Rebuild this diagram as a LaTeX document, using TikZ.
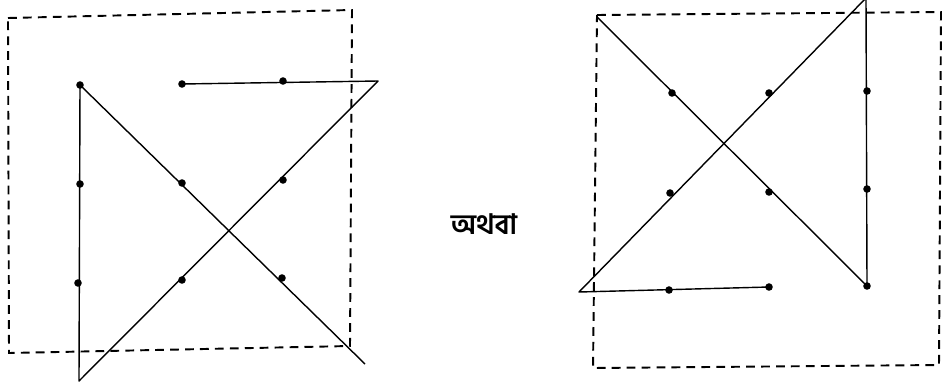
\documentclass[tikz,border=0pt]{standalone}
\usepackage{fontspec}
\newfontfamily\bengalifont[Script=Bengali]{Hind Siliguri}

\begin{document}
\begin{tikzpicture}[x=0.02cm,y=-0.02cm,
    dot/.style={circle,fill=black,inner sep=0pt,minimum size=4.3pt},
    frame/.style={dashed,dash pattern=on 5pt off 3.5pt,line width=1.1pt},
    stroke/.style={line width=0.8pt,line join=round}]
  \useasboundingbox (0,0) rectangle (943,386);

  % Left puzzle: the dashed square and the nine dots
  \draw[frame] (8,18) -- (352,10) -- (350,346) -- (9,353) -- cycle;
  \node[dot] (l11) at (80,85) {};
  \node[dot] (l12) at (182,84) {};
  \node[dot] (l13) at (283,81) {};
  \node[dot] (l21) at (80,184) {};
  \node[dot] (l22) at (182,183) {};
  \node[dot] (l23) at (283,180) {};
  \node[dot] (l31) at (78,283) {};
  \node[dot] (l32) at (182,280) {};
  \node[dot] (l33) at (282,278) {};
  \coordinate (lturn) at (378,81);
  \coordinate (lfoot) at (79,381);
  \coordinate (lend) at (365,364);

  % Four strokes through the left dots
  \draw[stroke] (l12.center) -- (lturn) -- (lfoot) -- (l11.center) -- (lend);

  % The word between the two puzzles
  \node[font=\bengalifont\bfseries\fontsize{16}{18}\selectfont] (or) at (484,224) {অথবা};

  % Right puzzle: the dashed square and the nine dots
  \draw[frame] (597,15) -- (941,12) -- (939,365) -- (593,368) -- cycle;
  \node[dot] (r11) at (672,93) {};
  \node[dot] (r12) at (769,93) {};
  \node[dot] (r13) at (867,91) {};
  \node[dot] (r21) at (670,193) {};
  \node[dot] (r22) at (769,192) {};
  \node[dot] (r23) at (867,189) {};
  \node[dot] (r31) at (669,290) {};
  \node[dot] (r32) at (769,287) {};
  \node[dot] (r33) at (867,286) {};
  \coordinate (rcorner) at (597,17);
  \coordinate (rtop) at (866,-2);
  \coordinate (rfoot) at (579,292);

  % Four strokes through the right dots
  \draw[stroke] (rcorner) -- (r33.center) -- (rtop) -- (rfoot) -- (r32.center);
\end{tikzpicture}
\end{document}
